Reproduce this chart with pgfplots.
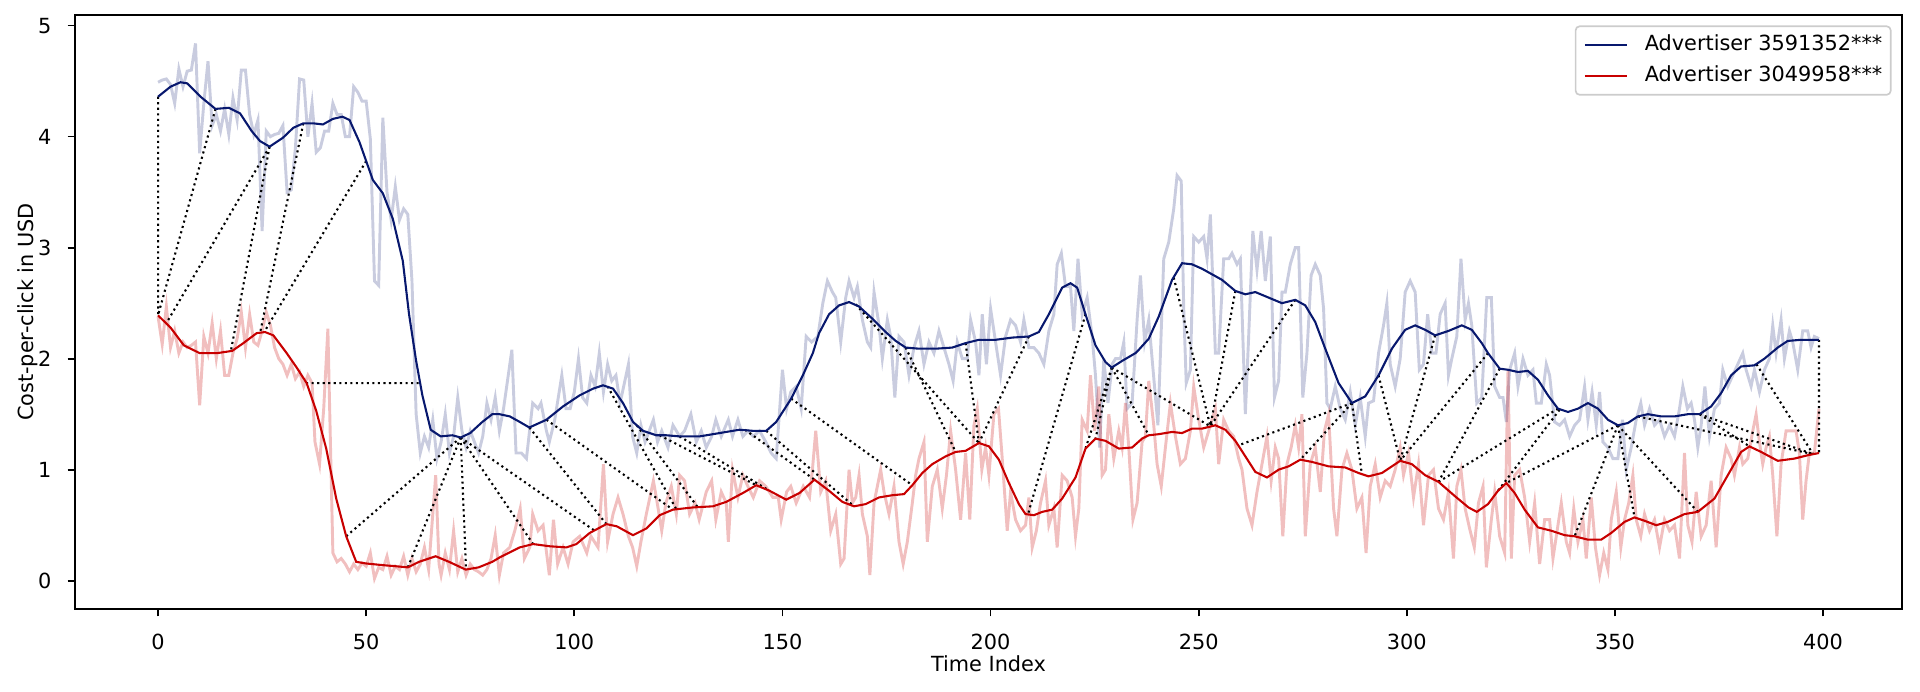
\documentclass[border=0pt]{standalone}
\usepackage{fontspec}
\setmainfont{DejaVu Sans}
\usepackage{pgfplots}
\pgfplotsset{compat=1.18}
\definecolor{bdark}{RGB}{8,24,110}
\definecolor{rdark}{RGB}{200,0,0}
\definecolor{legframe}{RGB}{204,204,204}
\begin{document}
\begin{tikzpicture}
\useasboundingbox (-36pt,-39.84pt) rectangle (885.6pt,292.32pt);
\begin{axis}[
  at={(0pt,0pt)}, anchor=south west,
  scale only axis, width=876.96pt, height=285.12pt,
  xmin=-19.95, xmax=418.95, ymin=-0.255, ymax=5.096,
  xtick={0,50,...,400}, ytick={0,1,2,3,4,5},
  xtick pos=bottom, ytick pos=left,
  tick align=outside, major tick length=3.5pt,
  tick style={black, line width=0.8pt},
  axis line style={black, line width=0.8pt},
  /pgf/number format/assume math mode=true,
  xticklabel style={anchor=base, inner sep=0pt, yshift=-15.7pt, font=\fontsize{10}{12}\selectfont},
  yticklabel style={anchor=east, inner sep=0pt, xshift=-7.6pt, font=\fontsize{10}{12}\selectfont},
  xlabel={Time Index}, ylabel={Cost-per-click in USD},
  every axis x label/.style={at={(axis description cs:0.5,0)}, anchor=base, yshift=-30.1pt, font=\fontsize{10}{12}\selectfont},
  every axis y label/.style={at={(axis description cs:-0.02269,0.5)}, rotate=90, anchor=base, font=\fontsize{10}{12}\selectfont},
  legend cell align=left,
  legend style={at={(1,1)}, anchor=north east, xshift=-5pt, yshift=-5pt,
    draw=legframe, line width=0.8pt, rounded corners=2pt, fill=white, fill opacity=0.8, text opacity=1,
    inner xsep=4pt, inner ysep=4pt, row sep=5pt, column sep=0pt,
    nodes={inner sep=0pt, text height=0.76em, text depth=0.236em},
    font=\fontsize{10}{12}\selectfont},
  legend image code/.code={\draw[#1, line width=1pt] (0pt,0pt) -- (20pt,0pt); \path (28.2pt,0pt);},
  unbounded coords=jump,
]
% noisy series, Advertiser 3591352***
\addplot[bdark, opacity=0.22, line width=1.4pt, forget plot] coordinates {
(0,4.49)(1,4.51)(2,4.52)(3,4.47)(4,4.30)(5,4.61)(6,4.45)(7,4.59)(8,4.60)(9,4.84)(10,3.85)(11,4.30)(12,4.68)(13,4.10)(14,4.20)(15,4.05)(16,4.25)(17,4.02)(18,4.35)(19,4.15)(20,4.60)(21,4.60)(22,4.20)(23,4.02)(24,4.15)(25,3.15)(26,4.05)(27,4.00)(28,4.02)(29,4.03)(30,4.10)(31,3.50)(32,3.52)(33,3.90)(34,4.52)(35,4.51)(36,4.00)(37,4.30)(38,3.86)(39,3.90)(40,4.05)(41,4.05)(42,4.30)(43,4.20)(44,4.20)(45,4.00)(46,4.00)(47,4.45)(48,4.40)(49,4.32)(50,4.32)(51,3.98)(52,2.70)(53,2.66)(54,4.17)(55,3.50)(56,3.25)(57,3.55)(58,3.25)(59,3.35)(60,3.30)(61,2.70)(62,1.50)(63,1.15)(64,1.30)(65,1.20)(66,1.45)(67,1.10)(68,1.25)(69,1.50)(70,1.15)(71,1.30)(72,1.65)(73,1.35)(74,1.20)(75,1.35)(76,1.25)(77,1.15)(78,1.30)(79,1.60)(80,1.45)(81,1.65)(82,1.35)(83,1.55)(85,2.08)(86,1.15)(87.3,1.15)(88.5,1.10)(90,1.60)(91.3,1.55)(92,1.60)(93.3,1.35)(94,1.25)(95.3,1.45)(97,1.85)(98,1.55)(99,1.55)(100,1.70)(101,2.00)(102,1.65)(103,1.60)(104,1.85)(105,1.75)(106,2.05)(107,1.70)(108,1.95)(109,1.80)(110,1.85)(111,1.60)(113,1.95)(114,1.30)(115,1.15)(116,1.40)(117,1.25)(119,1.45)(120,1.25)(121,1.35)(122.5,1.20)(123.7,1.40)(125.3,1.30)(126.5,1.35)(128,1.50)(129.3,1.25)(130.5,1.35)(131.7,1.20)(133,1.30)(134,1.45)(135.3,1.30)(137,1.45)(138,1.30)(139.3,1.45)(140.5,1.30)(141.7,1.35)(143,1.30)(144.5,1.35)(146,1.25)(147.3,1.15)(148.5,1.10)(150,1.90)(151,1.55)(152,1.70)(153.3,1.75)(154.5,1.55)(155.7,2.20)(157,2.15)(158.5,2.20)(159.7,2.50)(160.8,2.70)(162,2.60)(162.8,2.55)(164,2.15)(165.2,2.55)(166,2.70)(167.2,2.55)(168,2.65)(169.2,2.35)(170.4,2.15)(171.2,2.10)(172,2.60)(173.2,2.30)(174,2.00)(175.2,2.35)(176,2.20)(177,1.65)(178,2.20)(179.2,2.15)(180.4,1.85)(181.6,2.10)(182.8,2.25)(184,1.95)(185.2,2.15)(186.4,2.05)(187.6,2.25)(188.8,2.10)(190,1.95)(191,1.80)(192,2.15)(193.2,2.00)(194.4,2.00)(195.2,2.35)(196.4,2.15)(197.2,1.85)(198,2.40)(199,1.95)(200,2.45)(201.2,2.15)(202.4,1.85)(203.6,2.20)(204.8,2.35)(206,2.30)(207.2,2.15)(208,2.35)(209.2,2.10)(210.4,2.10)(211.6,2.05)(212.8,1.95)(214,2.25)(215.2,2.40)(216,2.85)(217,2.95)(218,2.65)(219.2,2.65)(220,2.25)(221,2.90)(222,2.40)(223.2,2.55)(224.4,2.20)(225.2,1.85)(226.2,1.20)(227.2,2.00)(228.2,1.60)(229.2,1.95)(230,2.00)(231.2,2.00)(232,2.15)(232.8,1.55)(234,1.60)(235.2,2.35)(236,2.75)(237,2.15)(238,2.35)(238.8,2.00)(240.2,1.40)(241.6,2.90)(242.8,3.05)(244,3.35)(244.8,3.65)(245.8,3.60)(246.4,2.45)(247,1.78)(248,1.90)(248.8,3.10)(250,3.05)(251.2,3.10)(252,2.90)(252.8,3.30)(254,2.05)(254.8,2.05)(256,2.90)(257.2,2.90)(258,2.95)(259.2,2.85)(260,2.90)(261.2,1.50)(262,2.20)(263,3.15)(264,2.80)(265,3.15)(266,2.70)(267.2,3.10)(268.2,1.65)(269.2,1.80)(270,2.60)(270.8,2.60)(272,2.85)(273.2,3.00)(274,3.00)(275,1.65)(276,2.05)(277,2.75)(278,2.85)(279.2,2.75)(280,2.45)(280.8,1.60)(281.6,1.55)(282.8,1.75)(284,1.55)(285.2,1.45)(286.4,1.70)(287.6,1.40)(288.8,1.65)(290,1.30)(290.8,1.60)(292,1.62)(293.2,2.05)(294.4,2.30)(295.2,2.50)(296,1.95)(297.2,1.75)(298.4,2.00)(299.6,2.60)(300.8,2.70)(302,2.60)(303,1.90)(304,1.95)(305,2.40)(306,2.05)(307,2.05)(308,2.40)(309.2,2.50)(310,1.85)(310.8,2.00)(312,2.20)(313,2.90)(314,2.35)(314.8,2.50)(315.6,2.30)(316.8,1.60)(318,1.65)(319.2,2.55)(320.3,2.55)(321.1,1.75)(322.3,1.65)(323.1,1.65)(323.9,1.43)(324.7,1.90)(325.9,2.05)(326.7,1.75)(327.9,2.00)(329.1,1.85)(330.3,1.90)(331.1,1.60)(332.3,1.60)(333.5,1.95)(334.3,1.85)(335.5,1.43)(336.7,1.40)(337.9,1.45)(339.1,1.30)(340.3,1.40)(341.5,1.45)(342.7,1.75)(343.5,1.45)(344.5,1.70)(345.5,1.40)(346.3,1.70)(347.1,1.25)(348.3,1.20)(349.5,1.10)(350.7,1.10)(351.8,1.45)(352.7,1.00)(353.9,1.20)(355.1,1.45)(356.2,1.60)(357.1,1.40)(358.3,1.55)(359.5,1.40)(360.7,1.45)(361.9,1.30)(363.1,1.40)(364.3,1.30)(365.5,1.55)(366.3,1.75)(367.4,1.55)(368.3,1.60)(369.1,1.45)(369.9,1.20)(370.7,1.40)(371.6,1.75)(372.7,1.30)(373.9,1.55)(375.1,1.60)(375.9,1.90)(377.1,1.75)(378.3,1.85)(379.5,1.95)(380.7,2.05)(381.5,1.90)(382.7,1.75)(383.5,1.90)(384.7,1.70)(385.9,1.90)(387.1,2.00)(387.9,2.30)(388.7,2.05)(389.9,2.35)(390.7,2.00)(391.9,2.25)(392.7,2.15)(393.9,1.90)(395.1,2.25)(396.3,2.25)(397.1,2.10)(397.9,2.20)(399,2.18)
};
% noisy series, Advertiser 3049958***
\addplot[rdark, opacity=0.25, line width=1.4pt, forget plot] coordinates {
(0,2.38)(1,2.13)(2,2.47)(3,2.10)(4,2.25)(5,2.05)(6,2.15)(7,2.10)(8,2.12)(9,2.15)(10,1.58)(11,2.20)(12,2.05)(13,2.32)(14,2.00)(15,2.25)(16,1.85)(17,1.85)(18,2.05)(19,2.18)(20,2.42)(21,2.10)(22,2.40)(23,2.15)(24,2.12)(25,2.25)(26,2.42)(27,2.30)(28,2.10)(29,2.00)(30,1.95)(31,1.85)(32,1.95)(33,1.82)(34,1.88)(35,1.75)(36,1.85)(37,1.78)(37.7,1.25)(38.8,1.05)(39.8,1.55)(40.8,2.27)(42,0.25)(43,0.17)(44,0.20)(45,0.15)(46,0.08)(47,0.15)(48,0.10)(49,0.16)(50,0.13)(51,0.25)(52,0.02)(53,0.12)(54,0.10)(55,0.22)(56,0.05)(57,0.13)(58,0.10)(59,0.22)(60,0.05)(61,0.20)(62,0.08)(63,0.15)(64,0.30)(65,0.10)(66.7,0.95)(67.5,0.15)(68,0.05)(69,0.25)(70,0.10)(71,0.45)(72,0.08)(73,0.20)(74,0.05)(75,0.15)(76,0.10)(77,0.08)(78,0.05)(79,0.10)(80,0.20)(81,0.41)(82,0.05)(83,0.25)(84.5,0.30)(85.7,0.45)(87,0.65)(88,0.20)(89.3,0.30)(90,0.60)(91.3,0.45)(92.5,0.50)(94,0.05)(95,0.55)(96,0.15)(97.3,0.30)(98.5,0.15)(99.7,0.35)(101.3,0.40)(103,0.25)(104,0.40)(105.7,0.30)(107,1.05)(108,0.35)(109.3,0.60)(110.5,0.75)(111.7,0.60)(113,0.40)(114,0.30)(115,0.13)(116,0.35)(117.3,0.60)(119,0.90)(119.7,0.75)(121,0.45)(122,0.70)(123.3,0.85)(124.5,0.60)(125.3,0.95)(126.5,0.90)(127.7,0.60)(129,0.70)(130,0.55)(131.7,0.80)(133,0.90)(134,0.55)(135.3,0.80)(136.5,0.70)(137,0.35)(138,1.00)(139.3,0.75)(140.5,0.95)(141.7,0.85)(143,0.75)(144.5,0.90)(146,0.85)(147.7,0.75)(149,0.75)(149.7,0.55)(151,0.80)(152,0.85)(153.3,0.70)(155,0.85)(156.5,0.75)(157.2,1.00)(158,1.35)(159.2,0.80)(160.4,0.90)(161.6,0.45)(162.8,0.60)(164,0.15)(164.8,0.20)(166,1.00)(166.8,0.70)(167.6,0.75)(168.4,0.95)(169.2,0.60)(170.4,0.40)(171,0.05)(172,0.70)(172.8,0.85)(173.6,1.00)(174.4,0.80)(175.6,0.60)(176.8,0.85)(178,0.35)(179,0.15)(180,0.35)(181.2,0.70)(182,0.95)(182.8,1.10)(184,1.25)(184.8,0.35)(186,0.85)(187.2,1.00)(188.4,0.65)(189.4,0.95)(190.4,1.35)(191.6,1.00)(192.8,0.55)(194,1.15)(195,0.55)(196,1.40)(196.8,1.55)(197.9,1.00)(198.8,1.20)(199.6,0.95)(200.8,1.50)(201.9,1.55)(202.8,1.10)(204,0.45)(204.8,0.80)(206,0.55)(207.2,0.45)(208.4,0.50)(209.2,0.75)(210,0.30)(211,0.45)(212,0.70)(213.2,0.90)(214,0.50)(215.2,0.65)(216,0.30)(217.2,0.95)(218.4,0.90)(219.6,0.75)(220.4,0.40)(221.2,0.65)(222,1.45)(223.2,1.35)(224,1.85)(225,1.35)(226,1.75)(226.8,0.95)(227.6,1.00)(228.4,1.50)(229.6,1.10)(230.8,1.35)(231.6,1.20)(232.4,1.60)(233.2,1.20)(234.2,0.55)(235.2,0.70)(236.4,1.25)(237.2,1.30)(238,1.80)(239.2,1.40)(240,1.05)(241,0.85)(242,1.20)(243.2,1.60)(244.4,1.30)(245.6,1.05)(246.8,1.10)(248,1.35)(248.8,1.75)(250,1.45)(251.2,1.20)(252.4,1.35)(254,1.55)(254.8,1.05)(256,1.45)(257.2,1.35)(258.4,1.30)(259.6,1.10)(260.4,1.00)(261.6,0.65)(262.8,0.50)(264,0.80)(265.2,1.05)(266.4,1.30)(267.4,0.90)(268.4,1.20)(269.2,1.10)(270.2,0.40)(271.2,1.05)(272.2,1.20)(273.2,1.40)(274,1.20)(274.8,1.50)(275.6,0.40)(276.8,1.05)(278,1.20)(279.2,0.80)(280.2,1.35)(281.2,1.50)(282.4,0.65)(283.2,0.40)(284.4,1.00)(285.6,1.15)(286.8,1.00)(288,0.65)(289.2,0.75)(290.2,0.25)(291.2,0.85)(292.4,1.05)(293.6,0.75)(294.8,0.90)(296,0.85)(297.2,1.00)(298.4,1.20)(299.2,0.95)(300.4,1.15)(301.6,0.75)(302.8,1.05)(304,0.50)(305.2,0.95)(306.4,1.00)(307.6,0.65)(308.8,0.55)(310,0.80)(311.2,0.20)(312,0.85)(313,1.00)(314,0.65)(315.2,0.45)(316.2,0.30)(317.2,0.70)(318.3,0.85)(319.1,0.12)(320.3,0.55)(321.1,0.80)(322.3,0.40)(323.5,0.25)(324.3,1.90)(325.1,0.20)(325.9,0.95)(327.1,1.00)(328.3,0.75)(329.5,0.35)(330.7,0.70)(331.9,0.15)(333.1,0.55)(334.3,0.55)(335.1,0.20)(336.3,0.50)(337.1,0.70)(338.3,0.35)(339.1,0.25)(340.1,0.65)(341.1,0.35)(342.3,0.55)(343.1,0.20)(344.3,0.75)(345.3,0.30)(346.3,0.05)(347.3,0.25)(348.3,0.10)(349.1,0.55)(350.3,0.80)(351.4,0.30)(352.3,0.55)(353.3,0.70)(354.3,0.95)(355.1,0.55)(356.2,0.40)(357.1,0.60)(358.3,0.45)(359.5,0.55)(360.7,0.30)(361.9,0.55)(363.1,0.45)(364.3,0.50)(365.5,0.20)(366.7,1.15)(367.5,0.50)(368.5,0.35)(369.5,0.80)(370.7,0.40)(371.9,0.50)(373.1,0.90)(374.3,0.30)(375.5,0.95)(376.7,1.20)(377.9,1.10)(378.7,0.95)(379.9,1.20)(380.7,1.05)(381.9,1.10)(383.1,1.35)(383.9,1.50)(384.7,1.25)(385.5,1.05)(386.3,1.20)(387.1,1.30)(387.9,0.95)(388.9,0.40)(389.9,1.05)(391.1,1.35)(392.3,1.35)(393.5,1.35)(394.3,1.15)(395.1,0.55)(395.9,0.90)(396.7,1.15)(397.9,1.15)(399,1.55)
};
% alignment links between the smoothed series
\addplot[black, line width=1pt, dash pattern=on 1pt off 1.65pt, forget plot] coordinates {
(0,4.36)(0,2.39)(0,nan)
(13.8,4.25)(0,2.39)(0,nan)
(26.8,3.91)(2,2.32)(0,nan)
(26.8,3.91)(17.5,2.07)(0,nan)
(34.9,4.12)(24.5,2.23)(0,nan)
(50,3.78)(25.5,2.24)(0,nan)
(62.6,1.78)(35.7,1.78)(0,nan)
(72.7,1.29)(45.2,0.40)(0,nan)
(72.7,1.29)(60,0.12)(0,nan)
(72.7,1.29)(74,0.10)(0,nan)
(72.7,1.29)(90.1,0.33)(0,nan)
(72.7,1.29)(104.9,0.45)(0,nan)
(89.2,1.38)(107.7,0.51)(0,nan)
(93.3,1.45)(123.7,0.64)(0,nan)
(108,1.75)(124.5,0.645)(0,nan)
(115,1.40)(129.7,0.66)(0,nan)
(120.5,1.31)(143.7,0.86)(0,nan)
(125.3,1.30)(146.9,0.81)(0,nan)
(141,1.36)(157.7,0.91)(0,nan)
(146.1,1.35)(167.2,0.67)(0,nan)
(152.1,1.64)(181.2,0.86)(0,nan)
(167.6,2.49)(197.2,1.24)(0,nan)
(179.6,2.10)(191.6,1.16)(0,nan)
(194,2.14)(197.2,1.24)(0,nan)
(209.2,2.20)(197.2,1.24)(0,nan)
(222.8,2.40)(209,0.60)(0,nan)
(229.1,1.92)(222.8,1.19)(0,nan)
(229.1,1.92)(225.2,1.28)(0,nan)
(229.1,1.92)(238,1.31)(0,nan)
(229.1,1.92)(252.8,1.39)(0,nan)
(244,2.73)(252.8,1.39)(0,nan)
(258.8,2.61)(252.8,1.39)(0,nan)
(273.2,2.53)(252.8,1.39)(0,nan)
(286.8,1.60)(259.6,1.22)(0,nan)
(286.8,1.60)(274.4,1.09)(0,nan)
(286.8,1.60)(289.2,0.96)(0,nan)
(293.2,1.85)(298.4,1.08)(0,nan)
(306.8,2.21)(298.4,1.08)(0,nan)
(319.5,2.05)(298.4,1.08)(0,nan)
(322.3,1.91)(307.6,0.89)(0,nan)
(336.3,1.55)(307.6,0.89)(0,nan)
(336.7,1.54)(321.9,0.81)(0,nan)
(350.7,1.40)(323.9,0.88)(0,nan)
(350.7,1.40)(340.3,0.40)(0,nan)
(350.7,1.40)(354.7,0.57)(0,nan)
(350.7,1.40)(369.9,0.62)(0,nan)
(355.5,1.48)(397.6,1.14)(0,nan)
(370.3,1.50)(382.3,1.21)(0,nan)
(370.3,1.50)(397.6,1.14)(0,nan)
(384,1.95)(397.6,1.14)(0,nan)
(399,2.17)(399,1.15)
};
% smoothed series
\addplot[bdark, line width=1pt] coordinates {
(0,4.36)(3,4.45)(5.4,4.49)(7,4.48)(10.2,4.36)(13.8,4.25)(17,4.26)(19.7,4.21)(22.5,4.05)(24.5,3.96)(26.8,3.91)(30,3.99)(32.5,4.08)(34.9,4.12)(37.3,4.12)(39.6,4.11)(42,4.16)(44.3,4.18)(46,4.15)(48.4,3.95)(50,3.78)(51.6,3.61)(54,3.49)(56.4,3.26)(58.8,2.88)(60.3,2.40)(62,1.98)(63.5,1.67)(65.5,1.36)(67.9,1.30)(70.7,1.31)(72.7,1.29)(75,1.33)(77.9,1.43)(80.3,1.50)(82,1.50)(84.5,1.48)(86.9,1.43)(89.2,1.38)(93.3,1.45)(97.3,1.57)(101.3,1.67)(104.5,1.73)(106.9,1.76)(109.3,1.73)(111.7,1.60)(114.1,1.43)(116.5,1.35)(119.7,1.31)(122.1,1.31)(125.3,1.30)(130.1,1.30)(134.9,1.33)(139.7,1.36)(142.9,1.35)(146.1,1.35)(148.5,1.43)(152.1,1.64)(154.9,1.85)(157.3,2.05)(158.8,2.23)(161.2,2.40)(163.6,2.48)(166,2.51)(168.4,2.47)(171.6,2.36)(174.8,2.24)(177.2,2.16)(179.6,2.10)(182.8,2.09)(186.8,2.09)(190.8,2.10)(194,2.14)(197.2,2.17)(201.2,2.17)(205.2,2.19)(209.2,2.20)(211.6,2.24)(214,2.40)(217.2,2.64)(219.2,2.68)(220.8,2.64)(222.8,2.40)(225.2,2.12)(227.6,1.97)(229.1,1.92)(231.6,1.98)(234.8,2.05)(235.6,2.08)(238,2.18)(240.4,2.38)(243.6,2.71)(246,2.86)(248.4,2.85)(250.8,2.81)(253.2,2.76)(255.6,2.71)(258.8,2.61)(261.2,2.58)(263.6,2.60)(266.8,2.55)(270,2.50)(273.2,2.53)(275.6,2.48)(278,2.33)(280.4,2.09)(283.6,1.78)(286.8,1.60)(290,1.66)(293.2,1.85)(296.4,2.09)(299.6,2.26)(302,2.30)(304.4,2.26)(306.8,2.21)(310,2.25)(313.2,2.30)(315.6,2.26)(318,2.14)(319.5,2.05)(322.3,1.91)(324.3,1.90)(326.7,1.88)(329.1,1.89)(331.5,1.81)(333.9,1.67)(336.3,1.55)(338.7,1.52)(341.1,1.55)(343.5,1.60)(345.9,1.55)(348.3,1.45)(350.7,1.40)(353.1,1.42)(355.5,1.48)(357.9,1.50)(361.1,1.48)(364.3,1.48)(367.5,1.50)(370.3,1.50)(373.1,1.57)(375.5,1.69)(377.9,1.85)(380.3,1.93)(383.5,1.94)(385.9,2.00)(389.1,2.10)(391.5,2.16)(394.7,2.17)(399,2.17)
};
\addlegendentry{Advertiser 3591352***}
\addplot[rdark, line width=1pt] coordinates {
(0,2.39)(3,2.28)(6.2,2.12)(10,2.05)(14.2,2.05)(17.8,2.07)(20.5,2.14)(23.7,2.23)(25.7,2.24)(27.7,2.21)(30.9,2.05)(33.3,1.92)(35.7,1.78)(38,1.53)(40.4,1.19)(42.8,0.74)(45.2,0.40)(47.6,0.17)(50,0.155)(54,0.14)(57.2,0.13)(60,0.12)(62.7,0.17)(66.7,0.22)(69.9,0.17)(73.9,0.10)(77,0.12)(80.3,0.17)(82.1,0.21)(86.9,0.30)(90.1,0.33)(94.1,0.31)(98.1,0.30)(100.5,0.33)(103.7,0.43)(107.7,0.51)(110.2,0.49)(114.1,0.41)(117.3,0.47)(120.5,0.59)(123.7,0.64)(128.5,0.66)(133.3,0.67)(136.5,0.71)(140.5,0.79)(143.7,0.86)(146.9,0.81)(150.9,0.73)(154.1,0.79)(157.7,0.91)(161.2,0.81)(164.4,0.71)(167.2,0.67)(170,0.69)(173.2,0.75)(176.4,0.77)(179.2,0.78)(181.2,0.86)(183.6,0.97)(186,1.05)(189.2,1.12)(191.6,1.16)(194,1.17)(197.2,1.24)(199.6,1.21)(202,1.09)(204.4,0.88)(206.8,0.69)(208.4,0.60)(210.4,0.59)(212.4,0.62)(214.8,0.64)(217.2,0.74)(220.4,0.93)(222.8,1.19)(225.2,1.28)(227.6,1.26)(230.8,1.19)(234,1.20)(236.4,1.28)(238,1.31)(240.4,1.32)(243.6,1.34)(246,1.33)(248.4,1.37)(250.8,1.37)(254,1.40)(256.4,1.36)(258.8,1.26)(261.2,1.12)(263.6,0.98)(266.4,0.93)(269.2,1.00)(271.6,1.03)(274.4,1.09)(277.2,1.07)(281.2,1.03)(285.2,1.02)(288.4,0.97)(290.8,0.94)(294,0.97)(296.4,1.03)(298.4,1.08)(301.2,1.05)(304.4,0.95)(307.6,0.89)(311.6,0.76)(314.8,0.66)(316.8,0.62)(319.5,0.69)(321.9,0.81)(323.9,0.88)(325.9,0.79)(328.3,0.64)(331.5,0.48)(334.7,0.45)(337.9,0.41)(340.3,0.40)(343.5,0.37)(346.7,0.37)(349.1,0.43)(352.3,0.53)(354.7,0.57)(357.1,0.54)(359.9,0.50)(362.7,0.53)(366.7,0.60)(369.9,0.62)(373.9,0.74)(377.1,0.95)(380.3,1.16)(382.3,1.21)(385.1,1.16)(389.1,1.08)(393.1,1.10)(396.3,1.13)(399,1.15)
};
\addlegendentry{Advertiser 3049958***}
\end{axis}
\end{tikzpicture}
\end{document}
